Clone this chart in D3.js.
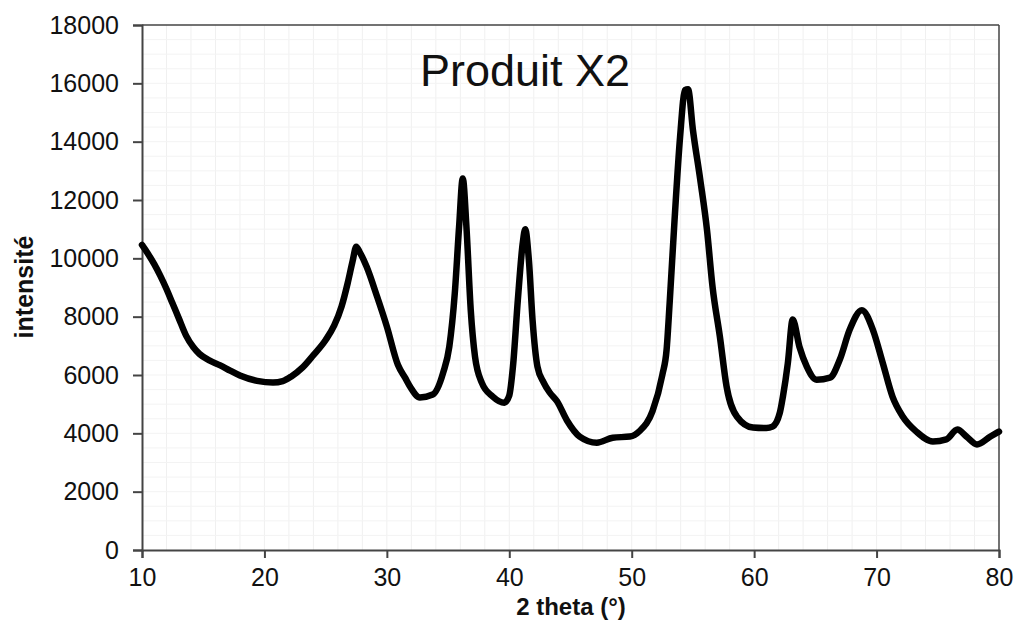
<!DOCTYPE html>
<html>
<head>
<meta charset="utf-8">
<script src="https://cdn.jsdelivr.net/npm/d3@7"></script>
<style>
  html, body { margin: 0; padding: 0; background: #fff; }
  svg { display: block; font-family: "Liberation Sans", Arial, sans-serif; }
</style>
</head>
<body>
<svg id="chart" width="1018" height="637"></svg>
<script>
// ---- data ----
const title = "Produit X2";
const xLabel = "2 theta (°)";
const yLabel = "intensité";
const xTicks = [10, 20, 30, 40, 50, 60, 70, 80];
const yTicks = [0, 2000, 4000, 6000, 8000, 10000, 12000, 14000, 16000, 18000];
const twoTheta = [
  10, 10.5, 11, 11.5, 12, 12.5, 13, 13.6, 14.2, 14.7, 15.5, 16.35, 17.2, 18, 19.4, 20.7, 21.5, 22.2,
  23.1, 24, 25, 25.7, 26.3, 26.8, 27.2, 27.5, 27.8, 28.35, 29.2, 30, 30.9, 31.5, 31.9, 32.7,
  33.75, 34.6, 35.1, 35.55, 35.9, 36.2, 36.5, 36.85, 37.2, 37.75, 38.65, 39.6, 40.0, 40.3, 40.7,
  41.1, 41.3, 41.6, 41.9, 42.3, 42.8, 43.3, 43.9, 44.7, 45.75, 47.15, 48.45, 49.85, 50.65, 51.7,
  52.5, 52.85, 53.1, 53.5, 53.95, 54.35, 54.6, 55, 55.6, 56.15, 56.6, 57.2, 57.75, 58.6, 59.9,
  61, 61.5, 62.1, 62.35, 62.75, 63.15, 63.7, 64.3, 65.1, 66.2, 67, 67.8, 68.8, 69.7, 70.5, 71.3,
  72.15, 73.25, 74.6, 75.7, 76.6, 77.35, 78.2, 79.3, 80
];
const intensity = [
  10460, 10150, 9800, 9400, 8950, 8450, 7950, 7350, 6950, 6720, 6500, 6340, 6150, 5980, 5800, 5740, 5790, 5950,
  6250, 6680, 7200, 7700, 8350, 9150, 9900, 10400, 10200, 9710, 8690, 7660, 6350, 5900, 5600, 5230,
  5330, 6080, 6970, 8810, 11080, 12740, 11080, 8240, 6630, 5740, 5260, 5050, 5300, 6290, 8580,
  10530, 11000, 9940, 7890, 6290, 5750, 5400, 5100, 4450, 3890, 3680, 3850, 3890, 4080, 4760,
  6000, 6870, 8480, 11320, 14160, 15770, 15800, 14400, 12690, 10970, 9030, 7320, 5600, 4570, 4200,
  4180, 4230, 4710, 5260, 6400, 7900, 6970, 6290, 5840, 5910, 6530, 7550, 8220, 7550, 6420, 5260,
  4570, 4060, 3720, 3790, 4130, 3890, 3620, 3890, 4060
];

// ---- layout ----
const svg = d3.select("#chart");
const L = 142, R = 999, T = 25, B = 550;
const x = d3.scaleLinear().domain([10, 80]).range([L, R]);
const y = d3.scaleLinear().domain([0, 18000]).range([B, T]);

// faint grid
const grid = svg.append("g");
grid.selectAll(".gx").data(d3.range(12, 80, 2)).enter().append("line")
  .attr("x1", d => x(d)).attr("x2", d => x(d)).attr("y1", T).attr("y2", B)
  .attr("stroke", "#f0f0f0").attr("stroke-width", 1);
grid.selectAll(".gy").data(d3.range(500, 18000, 500)).enter().append("line")
  .attr("y1", d => y(d)).attr("y2", d => y(d)).attr("x1", L).attr("x2", R)
  .attr("stroke", "#f3f3f3").attr("stroke-width", 1);

// frame (top & right)
svg.append("line").attr("x1", L).attr("x2", R).attr("y1", T).attr("y2", T)
  .attr("stroke", "#444").attr("stroke-width", 1.5);
svg.append("line").attr("x1", R).attr("x2", R).attr("y1", T).attr("y2", B)
  .attr("stroke", "#444").attr("stroke-width", 1.5);

// axes
const xAxis = svg.append("g").attr("transform", `translate(0,${B})`)
  .call(d3.axisBottom(x).tickValues(xTicks).tickSize(8).tickPadding(10).tickFormat(d3.format("d")));
const yAxis = svg.append("g").attr("transform", `translate(${L},0)`)
  .call(d3.axisLeft(y).tickValues(yTicks).tickSize(9).tickPadding(14).tickFormat(d3.format("d")));
[xAxis, yAxis].forEach(g => {
  g.select(".domain").attr("stroke", "#444").attr("stroke-width", 2);
  g.selectAll(".tick line").attr("stroke", "#444").attr("stroke-width", 2);
  g.selectAll(".tick text").attr("fill", "#111")
    .style("font-family", "'Liberation Sans', Arial, sans-serif").style("font-size", "25px");
});

// data line
const line = d3.line().x((d, i) => x(twoTheta[i])).y(d => y(d)).curve(d3.curveMonotoneX);
svg.append("path").datum(intensity)
  .attr("d", line).attr("fill", "none").attr("stroke", "#000")
  .attr("stroke-width", 6.5).attr("stroke-linejoin", "round").attr("stroke-linecap", "round");

// title
svg.append("text").attr("x", 525).attr("y", 86).attr("text-anchor", "middle")
  .style("font-size", "45px").attr("fill", "#111").text(title);

// axis titles
svg.append("text").attr("x", 571).attr("y", 615).attr("text-anchor", "middle")
  .style("font-size", "24px").style("font-weight", "bold").attr("fill", "#111").text(xLabel);
svg.append("text").attr("transform", "translate(33,287) rotate(-90)").attr("text-anchor", "middle")
  .style("font-size", "25px").style("font-weight", "bold").attr("fill", "#111").text(yLabel);
</script>
</body>
</html>
